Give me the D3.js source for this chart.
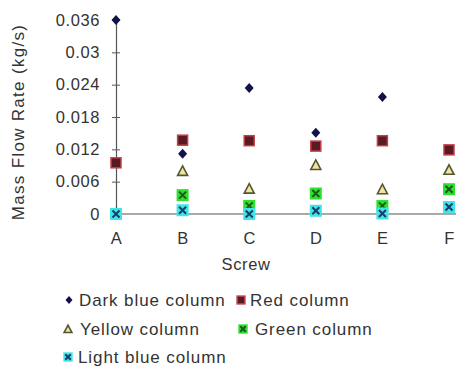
<!DOCTYPE html>
<html>
<head>
<meta charset="utf-8">
<script src="https://cdn.jsdelivr.net/npm/d3@7/dist/d3.min.js"></script>
<style>
  html, body { margin: 0; padding: 0; background: #fff; }
  svg { display: block; }
  text { font-family: "Liberation Sans", Arial, sans-serif; fill: #333; }
</style>
</head>
<body>
<svg id="chart" width="456" height="371"></svg>
<script>
// Mass flow rate per screw, one series per column colour
const screws = ["A", "B", "C", "D", "E", "F"];
const darkBlue  = [0.0360, 0.0112, 0.0234, 0.0151, 0.0217, null];
const red       = [0.0095, 0.0137, 0.0136, 0.0126, 0.0136, 0.0119];
const yellow    = [0.0000, 0.0080, 0.0047, 0.0091, 0.0046, 0.0082];
const green     = [0.0000, 0.0035, 0.0015, 0.0038, 0.0015, 0.0046];
const lightBlue = [0.0000, 0.0007, 0.0000, 0.0006, 0.0001, 0.0013];
const yTicks = [0, 0.006, 0.012, 0.018, 0.024, 0.03, 0.036];
const yTickLabels = ["0", "0.006", "0.012", "0.018", "0.024", "0.03", "0.036"];

const series = [
  { name: "Dark blue column",  values: darkBlue,  shape: "diamond" },
  { name: "Red column",        values: red,       shape: "square" },
  { name: "Yellow column",     values: yellow,    shape: "triangle" },
  { name: "Green column",      values: green,     shape: "xbox", fill: "#2ee02e", cross: "#1c5a1c" },
  { name: "Light blue column", values: lightBlue, shape: "xbox", fill: "#3ee6e6", cross: "#1c3c6a" }
];

const svg = d3.select("#chart");
const x = d3.scalePoint().domain(screws).range([116, 449]);
const y = d3.scaleLinear().domain([0, 0.036]).range([214, 20]);

const labelStyle = sel => sel.style("font-size", "16.5px").style("letter-spacing", "0.6px").attr("fill", "#444");

// axes
const yAxis = d3.axisLeft(y).tickValues(yTicks)
  .tickFormat((d, i) => yTickLabels[i]).tickSize(4).tickPadding(12);
const gy = svg.append("g").attr("transform", "translate(116,0)").call(yAxis);
gy.select(".domain").attr("stroke", "#555").attr("stroke-width", 1.2);
gy.selectAll(".tick line").attr("stroke", "#555").attr("x2", 4).attr("x1", -4);
gy.selectAll(".tick text").call(labelStyle);

svg.append("line").attr("x1", 116).attr("x2", 456)
  .attr("y1", y(0)).attr("y2", y(0)).attr("stroke", "#555").attr("stroke-width", 1.2);

const xAxis = d3.axisBottom(x).tickSize(0).tickPadding(18);
const gx = svg.append("g").attr("transform", `translate(0,${y(0)})`).call(xAxis);
gx.select(".domain").remove();
gx.selectAll(".tick text").call(labelStyle);

svg.append("text").attr("x", 246).attr("y", 270).attr("text-anchor", "middle")
  .call(labelStyle).text("Screw");
svg.append("text").attr("transform", "translate(24,122) rotate(-90)")
  .attr("text-anchor", "middle").call(labelStyle).style("font-size", "17px")
  .style("letter-spacing", "1.3px").text("Mass Flow Rate (kg/s)");

function drawMarker(g, s, k = 1) {
  if (s.shape === "diamond") {
    g.append("path").attr("d", `M0,${-5 * k} L${4.5 * k},0 L0,${5 * k} L${-4.5 * k},0 Z`).attr("fill", "#12124a");
  } else if (s.shape === "square") {
    g.append("rect").attr("x", -5 * k).attr("y", -5 * k).attr("width", 10 * k).attr("height", 10 * k)
      .attr("fill", "#5a1a22").attr("stroke", "#c0404a").attr("stroke-width", 1.5);
  } else if (s.shape === "triangle") {
    g.append("path").attr("d", `M0,${-5 * k} L${5 * k},${4.5 * k} L${-5 * k},${4.5 * k} Z`)
      .attr("fill", "#efe4a0").attr("stroke", "#555530").attr("stroke-width", 1.6);
  } else {
    g.append("rect").attr("x", -6 * k).attr("y", -6 * k).attr("width", 12 * k).attr("height", 12 * k)
      .attr("fill", s.fill);
    g.append("path").attr("d", `M${-3.5 * k},${-3.5 * k} L${3.5 * k},${3.5 * k} M${3.5 * k},${-3.5 * k} L${-3.5 * k},${3.5 * k}`)
      .attr("stroke", s.cross).attr("stroke-width", 2);
  }
}

// data points
series.forEach(s => {
  svg.append("g").selectAll("g")
    .data(screws.map((c, i) => ({ c, v: s.values[i] })).filter(d => d.v !== null))
    .join("g")
    .attr("transform", d => `translate(${x(d.c)},${y(d.v)})`)
    .each(function () { drawMarker(d3.select(this), s); });
});

// legend
const legendPos = [
  { mx: 69,  tx: 79,  y: 300 },
  { mx: 241, tx: 250, y: 300 },
  { mx: 68,  tx: 80,  y: 329 },
  { mx: 243, tx: 255, y: 329 },
  { mx: 68,  tx: 78,  y: 357 }
];
series.forEach((s, i) => {
  const p = legendPos[i];
  const g = svg.append("g").attr("transform", `translate(${p.mx},${p.y})`);
  drawMarker(g, s, 0.78);
  svg.append("text").attr("x", p.tx).attr("y", p.y).attr("dy", "0.35em")
    .call(labelStyle).style("font-size", "17px").style("letter-spacing", "0.9px")
    .attr("fill", "#333").text(s.name);
});
</script>
</body>
</html>
